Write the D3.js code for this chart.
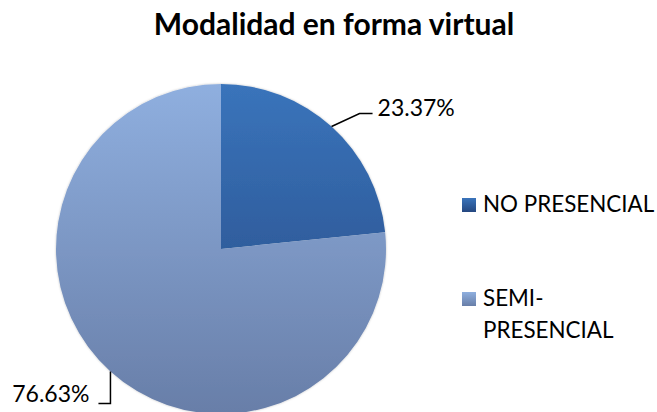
<!DOCTYPE html>
<html>
<head>
<script src="https://d3js.org/d3.v7.min.js"></script>
<style>
  body { margin: 0; background: #fff; }
  text { font-family: Lato, "Open Sans", sans-serif; fill: #000; }
</style>
</head>
<body>
<div id="container"></div>
<script>
// data
const categories = ["NO PRESENCIAL", "SEMI-PRESENCIAL"];
const values = [23.37, 76.63];
const valueLabels = ["23.37%", "76.63%"];
const legendLines = [["NO PRESENCIAL"], ["SEMI-", "PRESENCIAL"]];

const W = 657, H = 412;
const cx = 221, cy = 249, r = 165;

const svg = d3.select("#container").append("svg")
  .attr("width", W).attr("height", H);

// gradients, top to bottom of the whole pie (in the pie group's own coords)
const defs = svg.append("defs");
const grads = [
  ["g0", "#3a74bb", "#244780"],
  ["g1", "#8fafdf", "#687ea8"]
];
grads.forEach(function(g) {
  const lg = defs.append("linearGradient").attr("id", g[0])
    .attr("gradientUnits", "userSpaceOnUse")
    .attr("x1", 0).attr("y1", -r).attr("x2", 0).attr("y2", r);
  lg.append("stop").attr("offset", "0%").attr("stop-color", g[1]);
  lg.append("stop").attr("offset", "100%").attr("stop-color", g[2]);
});
const shadow = defs.append("filter").attr("id", "sh")
  .attr("x", "-10%").attr("y", "-10%").attr("width", "120%").attr("height", "120%");
shadow.append("feDropShadow").attr("dx", 0).attr("dy", 0).attr("stdDeviation", 1.2)
  .attr("flood-color", "#000").attr("flood-opacity", 0.25);

// title
svg.append("text")
  .attr("x", 334).attr("y", 35)
  .attr("text-anchor", "middle")
  .style("font-weight", "bold").style("font-size", "30px")
  .text("Modalidad en forma virtual");

const pie = d3.pie().sort(null).value(function(d) { return d; });
const arcs = pie(values);
const arc = d3.arc().innerRadius(0).outerRadius(r);

const g = svg.append("g").attr("transform", "translate(" + cx + "," + cy + ")");
g.append("g").attr("filter", "url(#sh)")
  .selectAll("path").data(arcs).enter().append("path")
  .attr("d", arc)
  .attr("fill", function(d, i) { return "url(#g" + i + ")"; });

// labels with leader lines
function edge(d) {
  const a = (d.startAngle + d.endAngle) / 2;
  return [r * Math.sin(a), -r * Math.cos(a)];
}
const p0 = edge(arcs[0]);
g.append("path")
  .attr("d", d3.line()([p0, [p0[0] + 28, p0[1] - 13], [p0[0] + 41, p0[1] - 13]]))
  .attr("fill", "none").attr("stroke", "#000").attr("stroke-width", 1.5);
g.append("text")
  .attr("x", p0[0] + 46).attr("y", p0[1] - 11)
  .style("font-size", "23px")
  .text(valueLabels[0]);

const p1 = edge(arcs[1]);
g.append("path")
  .attr("d", d3.line()([p1, [p1[0], p1[1] + 32], [p1[0] - 12, p1[1] + 32]]))
  .attr("fill", "none").attr("stroke", "#000").attr("stroke-width", 1.5);
g.append("text")
  .attr("x", p1[0] - 21).attr("y", p1[1] + 31)
  .attr("text-anchor", "end")
  .style("font-size", "23px")
  .text(valueLabels[1]);

// legend
const legend = svg.append("g");
const ly = [198, 292];
categories.forEach(function(c, i) {
  const lg = defs.append("linearGradient").attr("id", "lg" + i)
    .attr("x1", 0).attr("y1", 0).attr("x2", 0).attr("y2", 1);
  lg.append("stop").attr("offset", "0%").attr("stop-color", grads[i][1]);
  lg.append("stop").attr("offset", "100%").attr("stop-color", grads[i][2]);
  legend.append("rect")
    .attr("x", 462).attr("y", ly[i]).attr("width", 14).attr("height", 14)
    .attr("fill", "url(#lg" + i + ")");
  legendLines[i].forEach(function(t, j) {
    legend.append("text")
      .attr("x", 483).attr("y", ly[i] + 14 + j * 32)
      .style("font-size", "22.4px")
      .text(t);
  });
});
</script>
</body>
</html>
